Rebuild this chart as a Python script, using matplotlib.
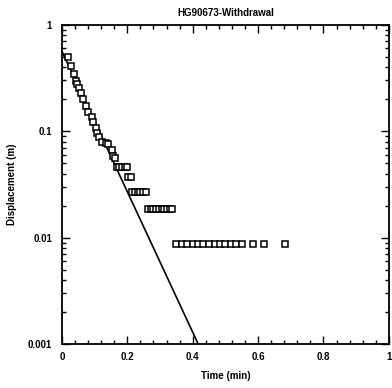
import matplotlib.pyplot as plt
from matplotlib.ticker import MultipleLocator, LogLocator, NullFormatter, FixedFormatter, FixedLocator

plt.rcParams['font.family'] = ['Liberation Sans', 'DejaVu Sans']

time_min = [0.019, 0.027, 0.037, 0.043, 0.047, 0.053, 0.057, 0.065, 0.073, 0.080,
            0.091, 0.096, 0.103, 0.108, 0.113, 0.123, 0.134, 0.142, 0.152, 0.157,
            0.162,
            0.167, 0.175, 0.183, 0.192, 0.198,
            0.203, 0.210,
            0.215, 0.223, 0.232, 0.240, 0.248, 0.257,
            0.263, 0.272, 0.280, 0.288, 0.297, 0.305, 0.313, 0.322, 0.330, 0.337,
            0.350, 0.367, 0.383, 0.400, 0.417, 0.433, 0.450, 0.467, 0.483, 0.500,
            0.517, 0.533, 0.550, 0.583, 0.617, 0.683]
disp_m = [0.50, 0.41, 0.346, 0.297, 0.277, 0.254, 0.228, 0.203, 0.173, 0.153,
          0.137, 0.123, 0.107, 0.097, 0.089, 0.080, 0.077, 0.076, 0.067, 0.058,
          0.056,
          0.046, 0.046, 0.046, 0.046, 0.046,
          0.037, 0.037,
          0.027, 0.027, 0.027, 0.027, 0.027, 0.027,
          0.0185, 0.0185, 0.0185, 0.0185, 0.0185, 0.0185, 0.0185, 0.0185, 0.0185, 0.0185,
          0.0088, 0.0088, 0.0088, 0.0088, 0.0088, 0.0088, 0.0088, 0.0088, 0.0088, 0.0088,
          0.0088, 0.0088, 0.0088, 0.0088, 0.0088, 0.0088]

# fitted straight line (end points)
fit_t = [0.0, 0.417]
fit_s = [0.565, 0.001]

x_ticks = [0, 0.2, 0.4, 0.6, 0.8, 1]
x_labels = ['0', '0.2', '0.4', '0.6', '0.8', '1']
y_ticks = [0.001, 0.01, 0.1, 1]
y_labels = ['0.001', '0.01', '0.1', '1']

fig = plt.figure(figsize=(3.92, 3.88), dpi=100)
ax = fig.add_axes([0.158, 0.113, 0.834, 0.823])

ax.plot(fit_t, fit_s, color='black', lw=1.2)
ax.plot(time_min, disp_m, ls='none', marker='s', ms=4.2, mfc='white', mec='black', mew=1.1)

ax.set_yscale('log')
ax.set_xlim(0, 1)
ax.set_ylim(0.001, 1)

ax.xaxis.set_major_locator(FixedLocator(x_ticks))
ax.xaxis.set_major_formatter(FixedFormatter(x_labels))
ax.xaxis.set_minor_locator(MultipleLocator(0.04))
ax.yaxis.set_major_locator(FixedLocator(y_ticks))
ax.yaxis.set_major_formatter(FixedFormatter(y_labels))
ax.yaxis.set_minor_locator(LogLocator(base=10, subs=range(2, 10)))
ax.yaxis.set_minor_formatter(NullFormatter())

ax.tick_params(which='both', direction='in', top=True, right=True, labelsize=7, width=1.0)
ax.tick_params(which='major', length=6)
ax.tick_params(which='minor', length=3)
ax.tick_params(axis='y', pad=7)
ax.tick_params(axis='x', pad=6)
for lab in ax.get_xticklabels() + ax.get_yticklabels():
    lab.set_fontweight('bold')
for sp in ax.spines.values():
    sp.set_linewidth(1.3)

ax.set_title('HG90673-Withdrawal', fontsize=7, fontweight='bold', pad=6)
ax.set_xlabel('Time (min)', fontsize=7, fontweight='bold', labelpad=6)
ax.set_ylabel('Displacement (m)', fontsize=7, fontweight='bold', labelpad=8)

fig.savefig('out.png', dpi=100)
